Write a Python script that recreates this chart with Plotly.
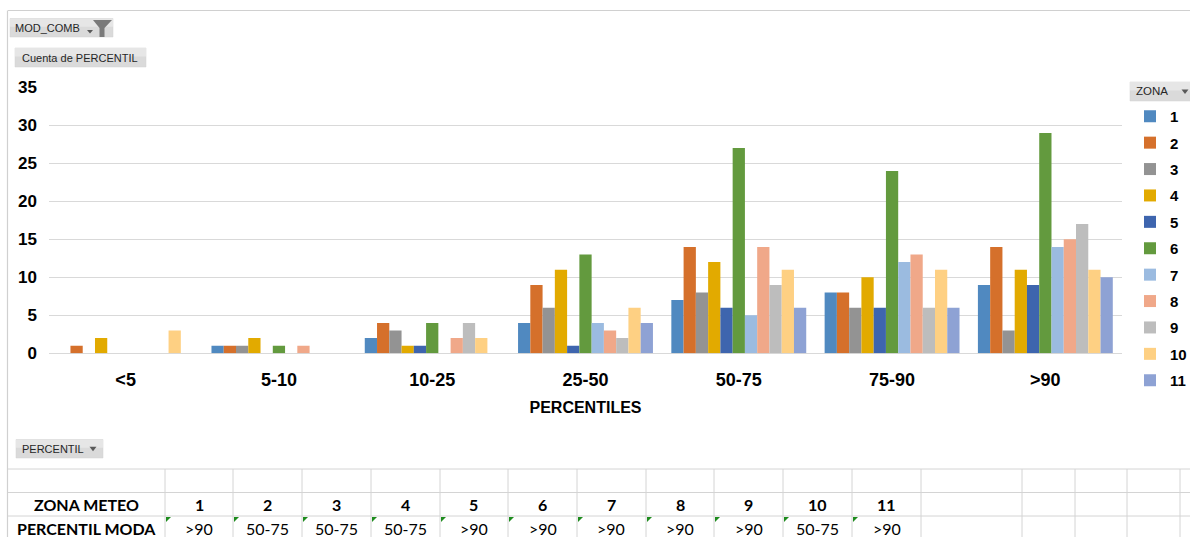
import plotly.graph_objects as go

W, H = 1190, 537

# ---------------- data ----------------
categories = ["<5", "5-10", "10-25", "25-50", "50-75", "75-90", ">90"]
zonas = ["1", "2", "3", "4", "5", "6", "7", "8", "9", "10", "11"]
zona_1 = [0, 1, 2, 4, 7, 8, 9]
zona_2 = [1, 1, 4, 9, 14, 8, 14]
zona_3 = [0, 1, 3, 6, 8, 6, 3]
zona_4 = [2, 2, 1, 11, 12, 10, 11]
zona_5 = [0, 0, 1, 1, 6, 6, 9]
zona_6 = [0, 1, 4, 13, 27, 24, 29]
zona_7 = [0, 0, 0, 4, 5, 12, 14]
zona_8 = [0, 1, 2, 3, 14, 13, 15]
zona_9 = [0, 0, 4, 2, 9, 6, 17]
zona_10 = [3, 0, 2, 6, 11, 11, 11]
zona_11 = [0, 0, 0, 4, 6, 6, 10]
series = [zona_1, zona_2, zona_3, zona_4, zona_5, zona_6, zona_7, zona_8,
          zona_9, zona_10, zona_11]
y_ticks = [0, 5, 10, 15, 20, 25, 30, 35]

tabla_zona_meteo = ["1", "2", "3", "4", "5", "6", "7", "8", "9", "10", "11"]
tabla_percentil_moda = [">90", "50-75", "50-75", "50-75", ">90", ">90", ">90",
                        ">90", ">90", "50-75", ">90"]

colors = ["#5089C0", "#D5702B", "#939393", "#E2AA00", "#3E65AE", "#639A3E",
          "#9BBBE0", "#F0A889", "#BDBDBD", "#FED083", "#8EA2D4"]


def px(x):
    return x / W


def py(y):
    return 1 - y / H


fig = go.Figure()
for name, vals, col in zip(zonas, series, colors):
    fig.add_trace(go.Bar(
        x=categories, y=vals, name=name, legendgroup=name,
        marker=dict(color=col, line=dict(width=0)),
        hoverinfo="x+y+name",
    ))

BOLD = "Liberation Sans"

fig.update_layout(
    width=W, height=H,
    margin=dict(l=0, r=0, t=0, b=0, pad=0, autoexpand=False),
    paper_bgcolor="white", plot_bgcolor="white",
    barmode="group", bargap=0.12, bargroupgap=0,
    showlegend=True,
    legend=dict(
        x=px(1130), y=py(100), xanchor="left", yanchor="top",
        font=dict(family=BOLD, size=15, color="#000000", weight="bold"),
        tracegroupgap=3.9, bgcolor="rgba(0,0,0,0)", borderwidth=0,
        traceorder="grouped",
    ),
    xaxis=dict(
        domain=[px(49), px(1122)],
        type="category",
        showgrid=False, showline=False, zeroline=False,
        ticks="", ticklabelstandoff=14,
        tickfont=dict(family=BOLD, size=18, color="#000000", weight="bold"),
        title=dict(text="PERCENTILES", standoff=12,
                   font=dict(family=BOLD, size=16, color="#000000", weight="bold")),
    ),
    yaxis=dict(
        domain=[py(353.3), py(87.3)],
        range=[0, 35], tickvals=y_ticks,
        showgrid=True, gridcolor="#D9D9D9", gridwidth=1.3,
        zeroline=True, zerolinecolor="#D9D9D9", zerolinewidth=1.3,
        showline=False, ticks="", ticklabelstandoff=11,
        tickfont=dict(family=BOLD, size=17, color="#000000", weight="bold"),
    ),
)

shapes = []
annotations = []

# frame lines
shapes.append(dict(type="line", xref="paper", yref="paper",
                   x0=px(8), x1=px(1190), y0=py(10.5), y1=py(10.5),
                   line=dict(color="#D0D0D0", width=1.2)))
shapes.append(dict(type="line", xref="paper", yref="paper",
                   x0=px(7.5), x1=px(7.5), y0=py(10.5), y1=py(537),
                   line=dict(color="#D0D0D0", width=1.2)))


def button(x0, y0, x1, y1, text, tx, size=11, arrow_x=None):
    shapes.append(dict(type="rect", xref="paper", yref="paper",
                       x0=px(x0), x1=px(x1), y0=py(y1), y1=py(y0),
                       fillcolor="#DADADA", line=dict(color="#D0D0D0", width=0.5),
                       layer="above"))
    shapes.append(dict(type="rect", xref="paper", yref="paper",
                       x0=px(x0), x1=px(x1), y0=py(y0 + (y1 - y0) * 0.45), y1=py(y0),
                       fillcolor="#E6E6E6", line=dict(width=0), layer="above"))
    annotations.append(dict(xref="paper", yref="paper", x=px(tx), y=py((y0 + y1) / 2),
                            xanchor="left", yanchor="middle", showarrow=False,
                            text=text, font=dict(family="Liberation Sans", size=size,
                                                 color="#262626")))
    if arrow_x is not None:
        ym = (y0 + y1) / 2
        p = "M {} {} L {} {} L {} {} Z".format(
            px(arrow_x - 3.5), py(ym - 2), px(arrow_x + 3.5), py(ym - 2),
            px(arrow_x), py(ym + 2.5))
        shapes.append(dict(type="path", xref="paper", yref="paper", path=p,
                           fillcolor="#595959", line=dict(width=0), layer="above"))


button(10, 18.5, 113, 37, "MOD_COMB", 13)
# funnel icon
funnel = "M {} {} L {} {} L {} {} L {} {} L {} {} L {} {} Z".format(
    px(93), py(20), px(112), py(20), px(104.5), py(28), px(104.5), py(37),
    px(99.5), py(37), px(99.5), py(28))
shapes.append(dict(type="path", xref="paper", yref="paper", path=funnel,
                   fillcolor="#7A7A7A", line=dict(width=0), layer="above"))
small_arrow = "M {} {} L {} {} L {} {} Z".format(
    px(87), py(30), px(93), py(30), px(90), py(33.5))
shapes.append(dict(type="path", xref="paper", yref="paper", path=small_arrow,
                   fillcolor="#595959", line=dict(width=0), layer="above"))

button(15, 48, 146, 67, "Cuenta de PERCENTIL", 20)
button(1130, 82, 1192, 101, "ZONA", 1134, size=11.5, arrow_x=1185)
button(16, 439.5, 103, 458, "PERCENTIL", 20, size=11, arrow_x=93)

# worksheet grid
grid_col = "#D4D4D4"
for yy in [469, 492.5, 516]:
    shapes.append(dict(type="line", xref="paper", yref="paper",
                       x0=px(8), x1=px(1190), y0=py(yy), y1=py(yy),
                       line=dict(color=grid_col, width=1)))
col_edges = [165, 233, 302, 371, 440, 508, 577, 646, 714, 783, 852, 921,
             1022, 1075, 1127, 1180]
for xx in col_edges:
    shapes.append(dict(type="line", xref="paper", yref="paper",
                       x0=px(xx), x1=px(xx), y0=py(469), y1=py(537),
                       line=dict(color=grid_col, width=1)))

TFONT = "Lato, Liberation Sans"
row1_y, row2_y = 504.5, 528.5
annotations.append(dict(xref="paper", yref="paper", x=px(86), y=py(row1_y),
                        xanchor="center", yanchor="middle", showarrow=False,
                        text="ZONA METEO",
                        font=dict(family=TFONT, size=16, color="#000", weight="bold")))
annotations.append(dict(xref="paper", yref="paper", x=px(86), y=py(row2_y),
                        xanchor="center", yanchor="middle", showarrow=False,
                        text="PERCENTIL MODA",
                        font=dict(family=TFONT, size=16, color="#000", weight="bold")))
for i, (zm, pm) in enumerate(zip(tabla_zona_meteo, tabla_percentil_moda)):
    left, right = col_edges[i], col_edges[i + 1]
    cx = (left + right) / 2
    annotations.append(dict(xref="paper", yref="paper", x=px(cx), y=py(row1_y),
                            xanchor="center", yanchor="middle", showarrow=False,
                            text=zm,
                            font=dict(family=TFONT, size=16, color="#000", weight="bold")))
    annotations.append(dict(xref="paper", yref="paper", x=px(cx), y=py(row2_y),
                            xanchor="center", yanchor="middle", showarrow=False,
                            text=pm,
                            font=dict(family=TFONT, size=16, color="#000")))
    tri = "M {} {} L {} {} L {} {} Z".format(
        px(left + 1), py(517), px(left + 6), py(517), px(left + 1), py(522))
    shapes.append(dict(type="path", xref="paper", yref="paper", path=tri,
                       fillcolor="#1E8C1E", line=dict(width=0), layer="above"))

fig.update_layout(shapes=shapes, annotations=annotations)
fig.write_html("out.html",
               config={"displayModeBar": False},
               post_script="document.body.style.margin='0';"
                           "document.body.style.overflow='hidden';")
